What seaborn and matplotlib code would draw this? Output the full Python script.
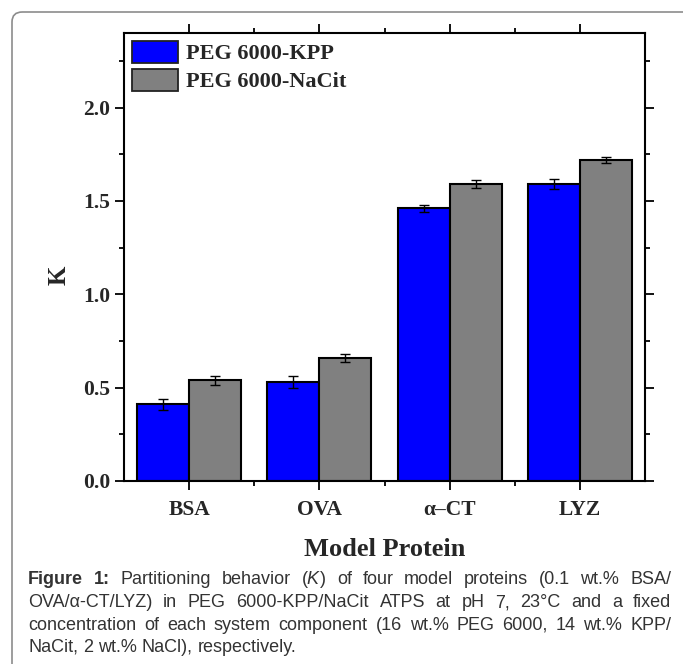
import numpy as np
import pandas as pd
import matplotlib
matplotlib.use('Agg')
import matplotlib.pyplot as plt
import seaborn as sns
from matplotlib.patches import Patch, FancyBboxPatch
from matplotlib.ticker import MultipleLocator, FixedLocator

# Data
proteins = ['BSA', 'OVA', 'α–CT', 'LYZ']
systems = ['PEG 6000-KPP', 'PEG 6000-NaCit']
k_kpp = [0.41, 0.53, 1.46, 1.59]
k_nacit = [0.54, 0.66, 1.59, 1.72]
err_kpp = [0.03, 0.03, 0.02, 0.027]
err_nacit = [0.025, 0.022, 0.022, 0.017]
colors = ['#0000ff', '#808080']

caption_lines = [
    [('Figure', 'bold'), ('1:', 'bold'), ('Partitioning', 'normal'), ('behavior', 'normal'),
     ('($\\mathit{K}$)', 'normal'), ('of', 'normal'), ('four', 'normal'), ('model', 'normal'),
     ('proteins', 'normal'), ('(0.1', 'normal'), ('wt.%', 'normal'), ('BSA/', 'normal')],
    'OVA/α-CT/LYZ) in PEG 6000-KPP/NaCit ATPS at pH 7, 23°C and a fixed',
    'concentration of each system component (16 wt.% PEG 6000, 14 wt.% KPP/',
    'NaCit, 2 wt.% NaCl), respectively.',
]

df = pd.DataFrame({
    'protein': proteins * 2,
    'system': [systems[0]] * 4 + [systems[1]] * 4,
    'K': k_kpp + k_nacit,
})

sns.set_style('ticks')
plt.rcParams['mathtext.fontset'] = 'custom'
plt.rcParams['mathtext.it'] = 'Liberation Sans:italic'
plt.rcParams['mathtext.rm'] = 'Liberation Sans'

W, H = 683, 664
fig = plt.figure(figsize=(W / 100, H / 100), dpi=100)
ax = fig.add_axes([124 / W, 1 - 481 / H, 521 / W, 448 / H])

sns.barplot(data=df, x='protein', y='K', hue='system', palette=colors,
            saturation=1, width=0.8, edgecolor='black', linewidth=1.5,
            errorbar=None, legend=False, ax=ax)

for cont, err in zip(ax.containers, [err_kpp, err_nacit]):
    xs = [b.get_x() + b.get_width() / 2 for b in cont]
    ys = [b.get_height() for b in cont]
    ax.errorbar(xs, ys, yerr=err, fmt='none', ecolor='black',
                elinewidth=1, capsize=3.5, capthick=1)

ax.set_xlim(-0.5, 3.5)
ax.set_ylim(0, 2.4)
ax.yaxis.set_major_locator(MultipleLocator(0.5))
ax.yaxis.set_minor_locator(MultipleLocator(0.25))
ax.xaxis.set_minor_locator(FixedLocator([0.5, 1.5, 2.5]))
ax.set_yticks([0, 0.5, 1.0, 1.5, 2.0])
ax.set_yticklabels(['0.0', '0.5', '1.0', '1.5', '2.0'])

for sp in ax.spines.values():
    sp.set_visible(True)
    sp.set_linewidth(1.5)
    sp.set_color('black')

ax.tick_params(which='both', direction='out', top=True, right=True,
               labeltop=False, labelright=False, width=1.3, color='black')
ax.tick_params(which='major', length=6.5)
ax.tick_params(which='minor', length=3.5)
for lab in ax.get_xticklabels() + ax.get_yticklabels():
    lab.set_fontfamily('Liberation Serif')
    lab.set_fontweight('bold')
    lab.set_fontsize(15.5)
ax.tick_params(axis='x', pad=7)

ax.set_xlabel('')
ax.set_ylabel('K', family='Liberation Serif', weight='bold', fontsize=18)
ax.yaxis.set_label_coords((71 - 124) / 521, (481 - 275) / 448)

handles = [Patch(facecolor=c, edgecolor='#222222', linewidth=1.3) for c in colors]
ax.legend(handles, systems, loc='upper left', frameon=False,
          prop={'family': 'Liberation Serif', 'weight': 'bold', 'size': 16},
          handlelength=2.1, handleheight=1.15, handletextpad=0.35,
          borderaxespad=0.15, borderpad=0.2, labelspacing=0.2)

fig.text(385 / W, 1 - 549 / H, 'Model Protein', family='Liberation Serif',
         weight='bold', fontsize=19, ha='center', va='center')

# outer rounded frame
frame = FancyBboxPatch((12 / W, -0.1), 1.2, (H - 12) / H + 0.1,
                       boxstyle='round,pad=0,rounding_size=0.015',
                       transform=fig.transFigure, facecolor='none',
                       edgecolor='#8c8c8c', linewidth=1.2)
fig.patches.append(frame)

# caption, justified like the source
x0, x1 = 28 / W, 671 / W
cap_color = '#333333'
cap_size = 13
line_y = [580, 602.5, 625, 647.5]
renderer = fig.canvas.get_renderer()
for i, line in enumerate(caption_lines):
    y = 1 - line_y[i] / H
    if isinstance(line, str):
        words = [(w, 'normal') for w in line.split(' ')]
    else:
        words = line
    texts = [fig.text(0, y, w, family='Liberation Sans', weight=wt, fontsize=cap_size,
                      color=cap_color, va='center', ha='left') for w, wt in words]
    if i == len(caption_lines) - 1:
        sp_w = fig.text(0, 0, 'a a', fontsize=cap_size, family='Liberation Sans')
        w_aa = sp_w.get_window_extent(renderer).width
        sp_w.remove()
        a_t = fig.text(0, 0, 'aa', fontsize=cap_size, family='Liberation Sans')
        gap = (w_aa - a_t.get_window_extent(renderer).width) / W
        a_t.remove()
    else:
        widths = [t.get_window_extent(renderer).width / W for t in texts]
        gap = (x1 - x0 - sum(widths)) / (len(texts) - 1)
    x = x0
    for t in texts:
        t.set_x(x)
        x += t.get_window_extent(renderer).width / W + gap

fig.savefig('out.png', dpi=100)
